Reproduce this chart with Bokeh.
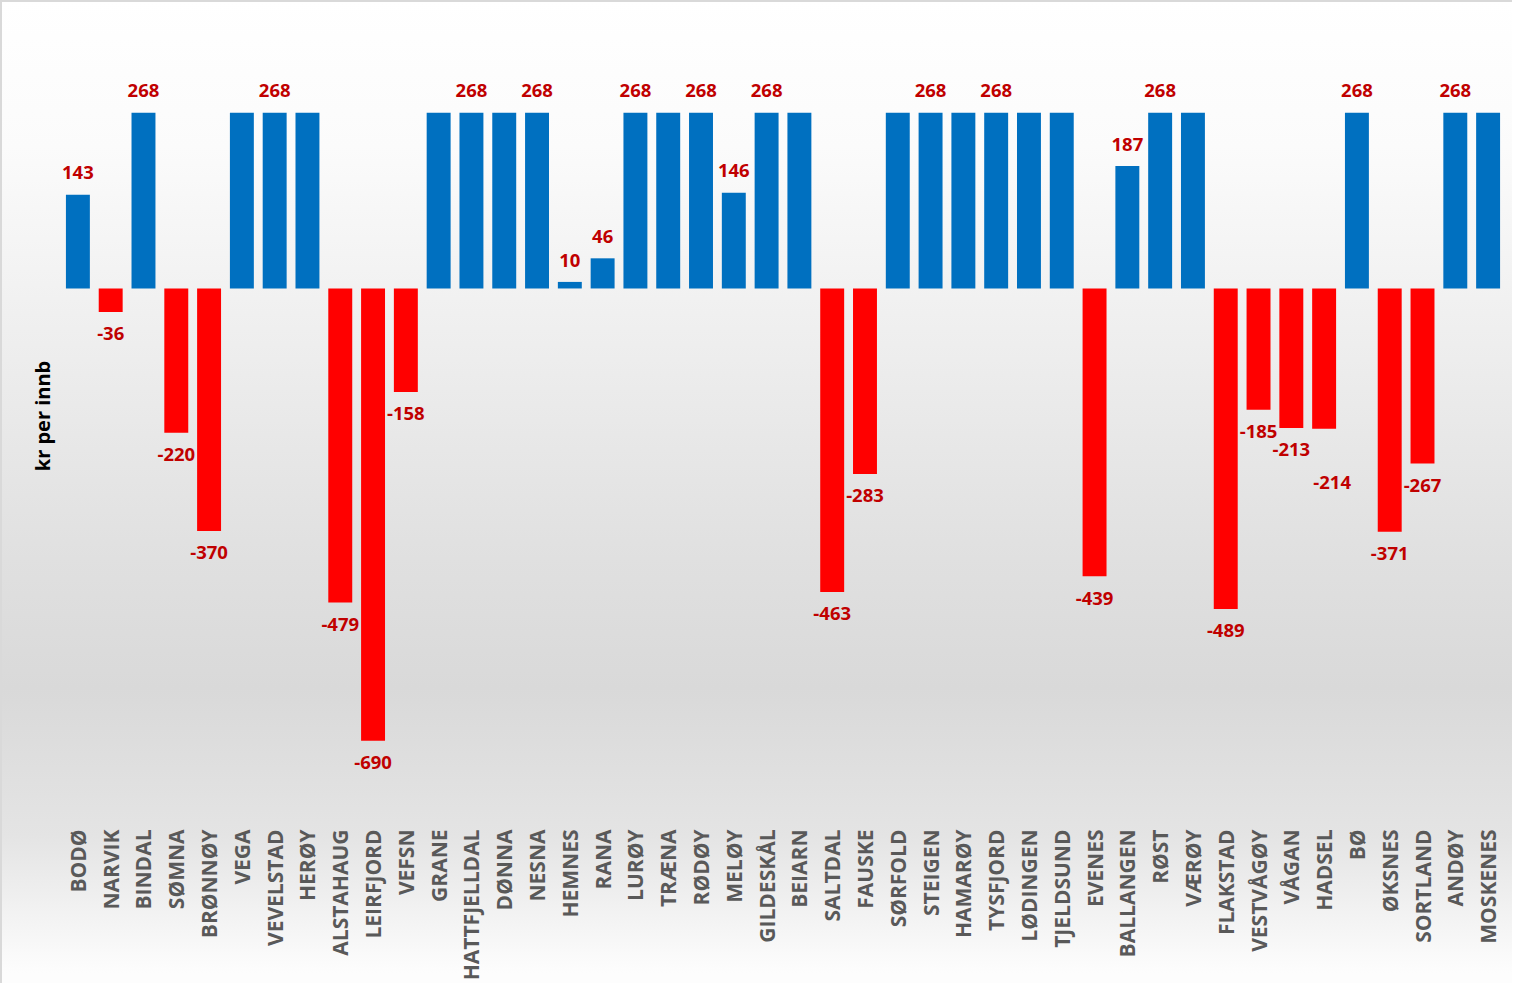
from math import pi
from bokeh.plotting import figure
from bokeh.models import Range1d, ColumnDataSource, FixedTicker
from bokeh.embed import file_html
from bokeh.resources import INLINE
from bokeh.core.properties import value

# ---------------- data ----------------
kommuner = ["BODØ", "NARVIK", "BINDAL", "SØMNA", "BRØNNØY", "VEGA", "VEVELSTAD", "HERØY",
            "ALSTAHAUG", "LEIRFJORD", "VEFSN", "GRANE", "HATTFJELLDAL", "DØNNA", "NESNA",
            "HEMNES", "RANA", "LURØY", "TRÆNA", "RØDØY", "MELØY", "GILDESKÅL", "BEIARN",
            "SALTDAL", "FAUSKE", "SØRFOLD", "STEIGEN", "HAMARØY", "TYSFJORD", "LØDINGEN",
            "TJELDSUND", "EVENES", "BALLANGEN", "RØST", "VÆRØY", "FLAKSTAD", "VESTVÅGØY",
            "VÅGAN", "HADSEL", "BØ", "ØKSNES", "SORTLAND", "ANDØY", "MOSKENES"]
kr_per_innb = [143, -36, 268, -220, -370, 268, 268, 268,
               -479, -690, -158, 268, 268, 268, 268,
               10, 46, 268, 268, 268, 146, 268, 268,
               -463, -283, 268, 268, 268, 268, 268,
               268, -439, 187, 268, 268, -489, -185,
               -213, -214, 268, -371, -267, 268, 268]
# kommuner whose value is printed on the chart
med_etikett = ["BODØ", "NARVIK", "BINDAL", "SØMNA", "BRØNNØY", "VEVELSTAD", "ALSTAHAUG",
               "LEIRFJORD", "VEFSN", "HATTFJELLDAL", "NESNA", "HEMNES", "RANA", "LURØY",
               "RØDØY", "MELØY", "GILDESKÅL", "SALTDAL", "FAUSKE", "STEIGEN", "TYSFJORD",
               "EVENES", "BALLANGEN", "RØST", "FLAKSTAD", "VESTVÅGØY", "VÅGAN", "HADSEL",
               "BØ", "ØKSNES", "SORTLAND", "ANDØY"]
y_label = "kr per innb"

# ---------------- layout / style ----------------
W, H = 1512, 983
TOP = 20
FRAME_H = 797
PX = 0.6604                       # pixels per unit
Y1 = 270 / PX
Y0 = Y1 - FRAME_H / PX
LABEL_GAP = 22                    # px between bar end and label centre
nudge_px = {"HADSEL": (8, 32)}    # (dx, extra dy) for a label moved to avoid overlap

BLUE = "#0070c0"
RED = "#ff0000"
LABEL_RED = "#c00000"

colors = [BLUE if v >= 0 else RED for v in kr_per_innb]
src = ColumnDataSource(dict(k=kommuner, v=kr_per_innb, c=colors))

lk, ly, lt, ldx = [], [], [], []
for k, v in zip(kommuner, kr_per_innb):
    if k not in med_etikett:
        continue
    dx, extra = nudge_px.get(k, (0, 0))
    sign = 1 if v >= 0 else -1
    lk.append(k)
    ly.append(v + sign * (LABEL_GAP + extra) / PX)
    lt.append(str(v))
    ldx.append(dx)
lsrc = ColumnDataSource(dict(k=lk, y=ly, t=lt, dx=ldx))

p = figure(x_range=kommuner, y_range=Range1d(Y0, Y1), width=W, height=H,
           output_backend="svg", toolbar_location=None,
           min_border_left=61, min_border_right=8, min_border_top=TOP,
           min_border_bottom=H - TOP - FRAME_H)

p.background_fill_color = None
p.border_fill_color = None
p.outline_line_color = None
p.styles = {
    "background-image": "linear-gradient(to bottom, #ffffff 0%, #fbfbfb 15%, #eeeeee 35%, "
                        "#e1e1e1 55%, #d9d9d9 70%, #e4e4e4 85%, #fdfdfd 99%)",
    "box-shadow": "inset 2px 2px 0 0 #d9d9d9",
}

p.vbar(x="k", top="v", bottom=0, width=0.73, fill_color="c", line_color=None, source=src)

p.text(x="k", y="y", text="t", x_offset="dx", source=lsrc,
       text_align="center", text_baseline="middle",
       text_font=value("Open Sans"), text_font_style="bold",
       text_font_size="18.5px", text_color=LABEL_RED)

p.xgrid.grid_line_color = None
p.ygrid.grid_line_color = None

xa = p.xaxis[0]
xa.axis_line_color = None
xa.major_tick_line_color = None
xa.minor_tick_line_color = None
xa.major_tick_out = 0
xa.major_tick_in = 0
xa.major_label_standoff = 18
xa.major_label_orientation = pi / 2
xa.major_label_text_font = "Open Sans"
xa.major_label_text_font_style = "bold"
xa.major_label_text_font_size = "21px"
xa.major_label_text_color = "#595959"

ya = p.yaxis[0]
ya.ticker = FixedTicker(ticks=[])
ya.axis_line_color = None
ya.major_tick_line_color = None
ya.minor_tick_line_color = None
ya.major_tick_out = 0
ya.major_tick_in = 0
ya.major_label_standoff = 0
ya.axis_label = y_label
ya.axis_label_standoff = 6
ya.axis_label_text_font = "Open Sans"
ya.axis_label_text_font_style = "bold"
ya.axis_label_text_font_size = "20px"
ya.axis_label_text_color = "#000000"

open("out.html", "w").write(file_html(p, INLINE))
